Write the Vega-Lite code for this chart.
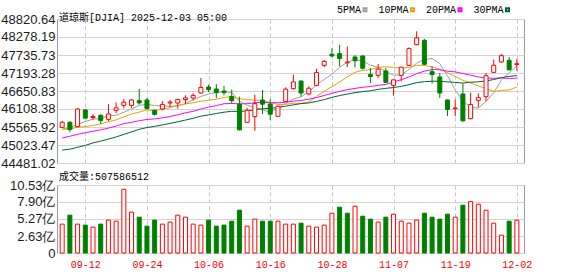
{
  "$schema": "https://vega.github.io/schema/vega-lite/v6.json",
  "padding": {"left": 0, "top": 4, "right": 0, "bottom": 0},
  "background": "white",
  "spacing": 0,
  "config": {
    "view": {"stroke": "#999999", "strokeWidth": 1},
    "axis": {"domain": false, "ticks": false, "title": null, "labelFont": "Liberation Sans", "labelFontSize": 13, "labelColor": "#1c1c1c", "labelOverlap": false},
    "axisX": {"grid": true, "gridDash": [4, 3], "gridColor": "#c8c8c8", "labelAngle": 0},
    "axisY": {"grid": true, "gridColor": "#d3d3d3", "labelPadding": 2, "minExtent": 55, "maxExtent": 55, "labelOverlap": false},
    "title": {"font": "Liberation Mono, Noto Sans CJK SC", "fontSize": 10, "fontWeight": "normal", "color": "#000000", "anchor": "start", "frame": "group"}
  },
  "datasets": {
    "k": [
      {"d":"09-09","o":45556,"h":45747,"l":45536,"c":45711,"v":4.47,"chg":"up","5PMA":45504,"10PMA":45498,"20PMA":45235,"30PMA":44870},
      {"d":"09-10","o":45707,"h":45740,"l":45405,"c":45490,"v":5.86,"chg":"down","5PMA":45548,"10PMA":45505,"20PMA":45286,"30PMA":44899},
      {"d":"09-11","o":45576,"h":46139,"l":45560,"c":46108,"v":4.47,"chg":"up","5PMA":45645,"10PMA":45560,"20PMA":45345,"30PMA":44954},
      {"d":"09-12","o":46079,"h":46100,"l":45820,"c":45834,"v":4.32,"chg":"down","5PMA":45732,"10PMA":45579,"20PMA":45392,"30PMA":45010},
      {"d":"09-15","o":45850,"h":45958,"l":45787,"c":45883,"v":4.01,"chg":"up","5PMA":45805,"10PMA":45613,"20PMA":45438,"30PMA":45087},
      {"d":"09-16","o":45918,"h":45948,"l":45657,"c":45757,"v":4.47,"chg":"down","5PMA":45814,"10PMA":45659,"20PMA":45481,"30PMA":45140},
      {"d":"09-17","o":45797,"h":46259,"l":45737,"c":45958,"v":5.09,"chg":"up","5PMA":45908,"10PMA":45728,"20PMA":45532,"30PMA":45201},
      {"d":"09-18","o":46068,"h":46310,"l":45978,"c":46142,"v":4.93,"chg":"up","5PMA":45915,"10PMA":45780,"20PMA":45593,"30PMA":45266},
      {"d":"09-19","o":46219,"h":46410,"l":46129,"c":46315,"v":9.86,"chg":"up","5PMA":46011,"10PMA":45871,"20PMA":45669,"30PMA":45344},
      {"d":"09-22","o":46219,"h":46410,"l":46139,"c":46381,"v":6.32,"chg":"up","5PMA":46111,"10PMA":45958,"20PMA":45707,"30PMA":45418},
      {"d":"09-23","o":46360,"h":46711,"l":46239,"c":46292,"v":5.55,"chg":"down","5PMA":46218,"10PMA":46016,"20PMA":45757,"30PMA":45495},
      {"d":"09-24","o":46380,"h":46440,"l":46100,"c":46121,"v":4.16,"chg":"down","5PMA":46250,"10PMA":46079,"20PMA":45792,"30PMA":45550},
      {"d":"09-25","o":46068,"h":46088,"l":45908,"c":45947,"v":5.09,"chg":"down","5PMA":46211,"10PMA":46063,"20PMA":45811,"30PMA":45585},
      {"d":"09-26","o":46109,"h":46350,"l":46068,"c":46247,"v":4.47,"chg":"up","5PMA":46198,"10PMA":46104,"20PMA":45842,"30PMA":45629},
      {"d":"09-29","o":46290,"h":46380,"l":46159,"c":46316,"v":4.78,"chg":"up","5PMA":46185,"10PMA":46148,"20PMA":45880,"30PMA":45675},
      {"d":"09-30","o":46289,"h":46400,"l":46119,"c":46398,"v":5.86,"chg":"up","5PMA":46206,"10PMA":46212,"20PMA":45935,"30PMA":45724},
      {"d":"10-01","o":46390,"h":46520,"l":46259,"c":46441,"v":5.55,"chg":"up","5PMA":46270,"10PMA":46260,"20PMA":45994,"30PMA":45775},
      {"d":"10-02","o":46440,"h":46581,"l":46370,"c":46519,"v":4.47,"chg":"up","5PMA":46384,"10PMA":46298,"20PMA":46039,"30PMA":45828},
      {"d":"10-03","o":46591,"h":47043,"l":46571,"c":46758,"v":4.32,"chg":"up","5PMA":46486,"10PMA":46342,"20PMA":46107,"30PMA":45893},
      {"d":"10-06","o":46771,"h":46842,"l":46621,"c":46695,"v":5.09,"chg":"down","5PMA":46562,"10PMA":46373,"20PMA":46166,"30PMA":45929},
      {"d":"10-07","o":46711,"h":46862,"l":46440,"c":46603,"v":4.16,"chg":"down","5PMA":46603,"10PMA":46405,"20PMA":46210,"30PMA":45973},
      {"d":"10-08","o":46650,"h":46811,"l":46520,"c":46602,"v":4.32,"chg":"down","5PMA":46635,"10PMA":46453,"20PMA":46266,"30PMA":46012},
      {"d":"10-09","o":46480,"h":46691,"l":46270,"c":46358,"v":4.93,"chg":"down","5PMA":46603,"10PMA":46494,"20PMA":46278,"30PMA":46039},
      {"d":"10-10","o":46259,"h":46480,"l":45466,"c":45480,"v":6.63,"chg":"down","5PMA":46348,"10PMA":46417,"20PMA":46261,"30PMA":46034},
      {"d":"10-13","o":45707,"h":46139,"l":45700,"c":46068,"v":4.16,"chg":"up","5PMA":46222,"10PMA":46392,"20PMA":46270,"30PMA":46051},
      {"d":"10-14","o":45877,"h":46540,"l":45455,"c":46270,"v":5.24,"chg":"up","5PMA":46156,"10PMA":46379,"20PMA":46296,"30PMA":46083},
      {"d":"10-15","o":46380,"h":46681,"l":45958,"c":46253,"v":4.93,"chg":"down","5PMA":46086,"10PMA":46361,"20PMA":46310,"30PMA":46116},
      {"d":"10-16","o":46259,"h":46400,"l":45777,"c":45952,"v":4.93,"chg":"down","5PMA":46005,"10PMA":46304,"20PMA":46301,"30PMA":46127},
      {"d":"10-17","o":45888,"h":46219,"l":45877,"c":46191,"v":4.93,"chg":"up","5PMA":46147,"10PMA":46247,"20PMA":46295,"30PMA":46154},
      {"d":"10-20","o":46339,"h":46761,"l":46330,"c":46707,"v":4.47,"chg":"up","5PMA":46275,"10PMA":46248,"20PMA":46311,"30PMA":46193},
      {"d":"10-21","o":46721,"h":47143,"l":46691,"c":46925,"v":4.47,"chg":"up","5PMA":46406,"10PMA":46281,"20PMA":46343,"30PMA":46234},
      {"d":"10-22","o":46952,"h":46960,"l":46480,"c":46590,"v":4.62,"chg":"down","5PMA":46473,"10PMA":46279,"20PMA":46366,"30PMA":46270},
      {"d":"10-23","o":46560,"h":46791,"l":46520,"c":46735,"v":4.16,"chg":"up","5PMA":46630,"10PMA":46317,"20PMA":46405,"30PMA":46291},
      {"d":"10-24","o":46822,"h":47324,"l":46792,"c":47207,"v":4.01,"chg":"up","5PMA":46833,"10PMA":46490,"20PMA":46453,"30PMA":46337},
      {"d":"10-27","o":47424,"h":47585,"l":47374,"c":47545,"v":4.32,"chg":"up","5PMA":47000,"10PMA":46638,"20PMA":46515,"30PMA":46392},
      {"d":"10-28","o":47760,"h":47937,"l":47665,"c":47706,"v":6.16,"chg":"up","5PMA":47157,"10PMA":46781,"20PMA":46580,"30PMA":46457},
      {"d":"10-29","o":47776,"h":48047,"l":47394,"c":47632,"v":7.09,"chg":"down","5PMA":47365,"10PMA":46919,"20PMA":46640,"30PMA":46513},
      {"d":"10-30","o":47500,"h":47990,"l":47374,"c":47522,"v":6.16,"chg":"down","5PMA":47522,"10PMA":47076,"20PMA":46690,"30PMA":46559},
      {"d":"10-31","o":47675,"h":47736,"l":47364,"c":47563,"v":7.24,"chg":"up","5PMA":47594,"10PMA":47213,"20PMA":46730,"30PMA":46601},
      {"d":"11-03","o":47706,"h":47726,"l":47300,"c":47337,"v":5.70,"chg":"down","5PMA":47552,"10PMA":47276,"20PMA":46762,"30PMA":46633},
      {"d":"11-04","o":47150,"h":47344,"l":46892,"c":47085,"v":5.24,"chg":"down","5PMA":47428,"10PMA":47292,"20PMA":46786,"30PMA":46659},
      {"d":"11-05","o":47123,"h":47464,"l":47043,"c":47311,"v":4.78,"chg":"up","5PMA":47364,"10PMA":47364,"20PMA":46822,"30PMA":46699},
      {"d":"11-06","o":47254,"h":47344,"l":46900,"c":46912,"v":5.55,"chg":"down","5PMA":47242,"10PMA":47382,"20PMA":46850,"30PMA":46731},
      {"d":"11-07","o":46822,"h":46990,"l":46510,"c":46987,"v":6.01,"chg":"up","5PMA":47126,"10PMA":47360,"20PMA":46925,"30PMA":46756},
      {"d":"11-10","o":47123,"h":47374,"l":46942,"c":47369,"v":4.93,"chg":"up","5PMA":47133,"10PMA":47342,"20PMA":46990,"30PMA":46791},
      {"d":"11-11","o":47424,"h":47967,"l":47424,"c":47928,"v":4.62,"chg":"up","5PMA":47301,"10PMA":47365,"20PMA":47073,"30PMA":46842},
      {"d":"11-12","o":48047,"h":48449,"l":48030,"c":48254,"v":5.09,"chg":"up","5PMA":47490,"10PMA":47427,"20PMA":47173,"30PMA":46902},
      {"d":"11-13","o":48178,"h":48228,"l":47430,"c":47457,"v":6.16,"chg":"down","5PMA":47599,"10PMA":47420,"20PMA":47248,"30PMA":46933},
      {"d":"11-14","o":47233,"h":47394,"l":46872,"c":47147,"v":5.55,"chg":"down","5PMA":47631,"10PMA":47379,"20PMA":47296,"30PMA":46946},
      {"d":"11-17","o":47073,"h":47193,"l":46440,"c":46590,"v":5.24,"chg":"down","5PMA":47475,"10PMA":47304,"20PMA":47290,"30PMA":46943},
      {"d":"11-18","o":46380,"h":46390,"l":45898,"c":46092,"v":6.01,"chg":"down","5PMA":47108,"10PMA":47205,"20PMA":47248,"30PMA":46926},
      {"d":"11-19","o":46120,"h":46390,"l":45888,"c":46139,"v":5.55,"chg":"up","5PMA":46685,"10PMA":47088,"20PMA":47226,"30PMA":46910},
      {"d":"11-20","o":46561,"h":46882,"l":45727,"c":45752,"v":7.40,"chg":"down","5PMA":46344,"10PMA":46972,"20PMA":47177,"30PMA":46890},
      {"d":"11-21","o":45817,"h":46601,"l":45797,"c":46245,"v":7.96,"chg":"up","5PMA":46164,"10PMA":46897,"20PMA":47129,"30PMA":46916},
      {"d":"11-24","o":46370,"h":46580,"l":46159,"c":46448,"v":7.55,"chg":"up","5PMA":46135,"10PMA":46805,"20PMA":47074,"30PMA":46928},
      {"d":"11-25","o":46480,"h":47193,"l":46340,"c":47112,"v":6.63,"chg":"up","5PMA":46339,"10PMA":46724,"20PMA":47044,"30PMA":46956},
      {"d":"11-26","o":47213,"h":47595,"l":47193,"c":47427,"v":4.62,"chg":"up","5PMA":46597,"10PMA":46641,"20PMA":47034,"30PMA":46996},
      {"d":"11-28","o":47525,"h":47766,"l":47505,"c":47716,"v":2.77,"chg":"up","5PMA":46990,"10PMA":46667,"20PMA":47044,"30PMA":47054},
      {"d":"12-01","o":47575,"h":47676,"l":47274,"c":47289,"v":4.93,"chg":"down","5PMA":47198,"10PMA":46681,"20PMA":47030,"30PMA":47091},
      {"d":"12-02","o":47450,"h":47625,"l":47264,"c":47474,"v":5.08,"chg":"up","5PMA":47404,"10PMA":46769,"20PMA":47037,"30PMA":47117}
    ]
  },
  "vconcat": [
    {
      "width": 467,
      "height": 144,
      "title": {"text": "道琼斯[DJIA] 2025-12-03 05:00", "offset": -10, "dx": 2},
      "data": {"name": "k"},
      "encoding": {
        "x": {"field": "d", "type": "ordinal", "sort": null,
              "scale": {"type": "point", "padding": 0.8, "align": 0.42},
              "axis": {"values": ["09-12","09-24","10-06","10-16","10-28","11-07","11-19","12-02"], "labels": false, "minExtent": 0, "maxExtent": 0}}
      },
      "layer": [
        {
          "transform": [{"fold": ["5PMA", "10PMA", "20PMA", "30PMA"], "as": ["ma", "val"]}],
          "mark": {"type": "line", "strokeWidth": 1},
          "encoding": {
            "y": {"field": "val", "type": "quantitative",
                  "scale": {"domain": [44481.02, 48820.64], "nice": false, "zero": false},
                  "axis": {"values": [44481.02, 45023.47, 45565.92, 46108.38, 46650.83, 47193.28, 47735.73, 48278.19, 48820.64], "format": ".2f", "labelOverlap": false, "labelSeparation": 0, "labelBound": false, "labelFlush": false}},
            "color": {"field": "ma", "type": "nominal",
                      "scale": {"domain": ["5PMA", "10PMA", "20PMA", "30PMA"], "range": ["#a0a0a0", "#f0a000", "#ff00ff", "#006633"]},
                      "legend": {"orient": "none", "legendX": 303, "legendY": -14.5, "direction": "horizontal", "title": null,
                                 "symbolType": "square", "symbolSize": 9, "symbolStrokeWidth": 2,
                                 "labelFont": "Liberation Mono", "labelFontSize": 10, "labelColor": "#000000",
                                 "labelAlign": "right", "labelOffset": -9, "columnPadding": 6.5, "padding": 0}}
          }
        },
        {
          "mark": {"type": "rule", "strokeWidth": 1},
          "encoding": {
            "y": {"field": "l", "type": "quantitative", "scale": {"domain": [44481.02, 48820.64], "nice": false, "zero": false},
                  "axis": {"values": [44481.02, 45023.47, 45565.92, 46108.38, 46650.83, 47193.28, 47735.73, 48278.19, 48820.64], "format": ".2f", "labelOverlap": false, "labelSeparation": 0, "labelBound": false, "labelFlush": false}},
            "y2": {"field": "h"},
            "color": {"condition": {"test": "datum.c >= datum.o", "value": "#ff0000"}, "value": "#008000"}
          }
        },
        {
          "mark": {"type": "bar", "size": 4, "strokeWidth": 1},
          "encoding": {
            "y": {"field": "o", "type": "quantitative", "scale": {"domain": [44481.02, 48820.64], "nice": false, "zero": false},
                  "axis": {"values": [44481.02, 45023.47, 45565.92, 46108.38, 46650.83, 47193.28, 47735.73, 48278.19, 48820.64], "format": ".2f", "labelOverlap": false, "labelSeparation": 0, "labelBound": false, "labelFlush": false}},
            "y2": {"field": "c"},
            "fill": {"condition": {"test": "datum.c >= datum.o", "value": "#ffffff"}, "value": "#008000"},
            "stroke": {"condition": {"test": "datum.c >= datum.o", "value": "#ff0000"}, "value": "#008000"}
          }
        }
      ]
    },
    {
      "width": 467,
      "height": 68,
      "title": {"text": "成交量:507586512", "offset": -3, "dx": 2},
      "data": {"name": "k"},
      "mark": {"type": "bar", "size": 4, "strokeWidth": 1},
      "encoding": {
        "x": {"field": "d", "type": "ordinal", "sort": null,
              "scale": {"type": "point", "padding": 0.8, "align": 0.42},
              "axis": {"values": ["09-12","09-24","10-06","10-16","10-28","11-07","11-19","12-02"],
                       "labelColor": "#ff0000", "labelFont": "Liberation Mono", "labelFontSize": 10, "labelPadding": 6}},
        "y": {"field": "v", "type": "quantitative", "scale": {"domain": [0, 10.53], "nice": false},
              "axis": {"values": [0, 2.63, 5.27, 7.90, 10.53], "labelOverlap": false, "labelSeparation": 0, "labelExpr": "datum.value == 0 ? '0' : format(datum.value, '.2f') + '亿'"}},
        "fill": {"condition": {"test": "datum.chg == 'up'", "value": "#ffffff"}, "value": "#008000"},
        "stroke": {"condition": {"test": "datum.chg == 'up'", "value": "#ff0000"}, "value": "#008000"}
      }
    }
  ]
}
